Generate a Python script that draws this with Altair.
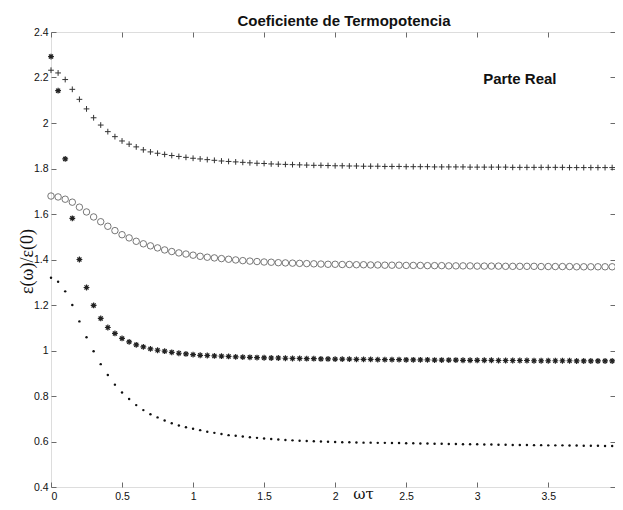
import altair as alt
import pandas as pd

# sample grid (omega*tau), step 0.05
x_vals = [round(i * 0.05, 2) for i in range(80)]

plus_vals = [2.232, 2.220, 2.191, 2.148, 2.104, 2.062, 2.023, 1.991, 1.962, 1.940,
             1.921, 1.907, 1.895, 1.882, 1.873, 1.867, 1.862, 1.857, 1.853, 1.849,
             1.845, 1.842, 1.839, 1.836, 1.833, 1.831, 1.829, 1.827, 1.825, 1.823,
             1.822, 1.820, 1.819, 1.818, 1.817, 1.816, 1.815, 1.814, 1.814, 1.813,
             1.812, 1.812, 1.811, 1.811, 1.810, 1.810, 1.810, 1.809, 1.809, 1.809,
             1.808, 1.808, 1.808, 1.808, 1.807, 1.807, 1.807, 1.807, 1.807, 1.806,
             1.806, 1.806, 1.806, 1.806, 1.806, 1.805, 1.805, 1.805, 1.805, 1.805,
             1.805, 1.805, 1.805, 1.804, 1.804, 1.804, 1.804, 1.804, 1.804, 1.804]

circ_vals = [1.679, 1.675, 1.665, 1.652, 1.630, 1.609, 1.587, 1.566, 1.546, 1.527,
             1.509, 1.495, 1.480, 1.469, 1.460, 1.451, 1.442, 1.435, 1.429, 1.424,
             1.419, 1.414, 1.410, 1.407, 1.404, 1.401, 1.398, 1.395, 1.393, 1.391,
             1.389, 1.388, 1.386, 1.385, 1.384, 1.383, 1.382, 1.381, 1.380, 1.379,
             1.379, 1.378, 1.378, 1.377, 1.377, 1.376, 1.376, 1.375, 1.375, 1.375,
             1.374, 1.374, 1.374, 1.373, 1.373, 1.373, 1.372, 1.372, 1.372, 1.372,
             1.371, 1.371, 1.371, 1.371, 1.370, 1.370, 1.370, 1.370, 1.370, 1.369,
             1.369, 1.369, 1.369, 1.369, 1.368, 1.368, 1.368, 1.368, 1.368, 1.368]

star_vals = [2.292, 2.142, 1.842, 1.581, 1.400, 1.277, 1.198, 1.141, 1.101, 1.075,
             1.053, 1.038, 1.025, 1.016, 1.007, 1.001, 0.997, 0.992, 0.988, 0.985,
             0.982, 0.979, 0.978, 0.976, 0.975, 0.974, 0.972, 0.971, 0.970, 0.969,
             0.968, 0.967, 0.967, 0.966, 0.965, 0.965, 0.964, 0.964, 0.963, 0.963,
             0.962, 0.962, 0.962, 0.961, 0.961, 0.961, 0.960, 0.960, 0.960, 0.960,
             0.959, 0.959, 0.959, 0.959, 0.958, 0.958, 0.958, 0.958, 0.957, 0.957,
             0.957, 0.957, 0.957, 0.956, 0.956, 0.956, 0.956, 0.956, 0.955, 0.955,
             0.955, 0.955, 0.955, 0.955, 0.954, 0.954, 0.954, 0.954, 0.954, 0.954]

dot_vals = [1.320, 1.302, 1.260, 1.200, 1.128, 1.058, 0.997, 0.940, 0.892, 0.850,
            0.815, 0.787, 0.760, 0.738, 0.720, 0.706, 0.692, 0.680, 0.670, 0.663,
            0.656, 0.650, 0.643, 0.638, 0.633, 0.628, 0.625, 0.622, 0.619, 0.616,
            0.613, 0.611, 0.609, 0.607, 0.605, 0.603, 0.602, 0.601, 0.600, 0.599,
            0.598, 0.597, 0.597, 0.596, 0.595, 0.595, 0.594, 0.594, 0.593, 0.593,
            0.592, 0.592, 0.591, 0.591, 0.590, 0.590, 0.589, 0.589, 0.588, 0.588,
            0.588, 0.587, 0.587, 0.586, 0.586, 0.585, 0.585, 0.585, 0.584, 0.584,
            0.583, 0.583, 0.583, 0.582, 0.582, 0.581, 0.581, 0.581, 0.580, 0.580]

x_ticks = [0, 0.5, 1, 1.5, 2, 2.5, 3, 3.5]
y_ticks = [0.4, 0.6, 0.8, 1.0, 1.2, 1.4, 1.6, 1.8, 2.0, 2.2, 2.4]

title_text = ["Coeficiente de Termopotencia"]
note_text = ["Parte Real"]
note_x = [3.30]
note_y = [2.173]
x_title = "ωτ"
y_title = "ε(ω)/ε(0)"

W, H = 564, 455
xs = alt.Scale(domain=[0, 3.97], nice=False, zero=False)
ys = alt.Scale(domain=[0.4, 2.4], nice=False, zero=False)

df = pd.DataFrame({"x": x_vals, "plus": plus_vals, "circ": circ_vals,
                   "star": star_vals, "dot": dot_vals})
note_df = pd.DataFrame({"x": note_x, "y": note_y, "t": note_text})
title_df = pd.DataFrame({"t": title_text})

AX = "#6a6a6a"


def tick_axis(orient):
    return alt.Axis(orient=orient, values=x_ticks if orient in ("top", "bottom") else y_ticks,
                    offset=-5, tickSize=5, ticks=True, labels=False, domain=False,
                    grid=False, title=None, tickColor=AX, tickWidth=1)


base = alt.Chart(df)

plus_layer = base.mark_point(
    shape="M-1,0L1,0M0,-1L0,1", filled=False, stroke="#333333", strokeWidth=1, size=33, opacity=1
).encode(
    x=alt.X("x:Q", scale=xs, axis=alt.Axis(
        orient="bottom", values=x_ticks, format="~g", ticks=False, tickSize=0, domain=False,
        grid=False, labelPadding=4, labelFontSize=10.5, labelFont="Liberation Sans", labelColor="#111",
        title=x_title, titleFont="DejaVu Serif", titleFontSize=15, titleFontWeight="normal",
        titleX=312, titleY=11, titleBaseline="alphabetic", titleColor="#111")),
    y=alt.Y("plus:Q", scale=ys, axis=alt.Axis(
        orient="left", values=y_ticks, format="~g", ticks=False, tickSize=0, domain=False,
        grid=False, labelPadding=3, labelFontSize=10.5, labelFont="Liberation Sans", labelColor="#111",
        title=y_title, titleFont="Liberation Serif", titleFontSize=18, titleFontWeight="normal",
        titleX=-24, titleY=229, titleBaseline="middle", titleAngle=270, titleColor="#111")),
)

circ_layer = base.mark_point(
    shape="circle", filled=False, stroke="#555555", strokeWidth=0.8, size=42, opacity=1
).encode(
    x=alt.X("x:Q", scale=xs, axis=tick_axis("bottom")),
    y=alt.Y("circ:Q", scale=ys, axis=tick_axis("left")),
)

star_layer = base.mark_point(
    shape="M-1,0L1,0M0,-1L0,1M-0.7,-0.7L0.7,0.7M-0.7,0.7L0.7,-0.7",
    filled=False, stroke="#222222", strokeWidth=1.2, size=34, opacity=1
).encode(
    x=alt.X("x:Q", scale=xs, axis=tick_axis("top")),
    y=alt.Y("star:Q", scale=ys, axis=tick_axis("right")),
)

dot_layer = base.mark_point(
    shape="circle", filled=True, fill="#111111", stroke=None, size=6, opacity=1
).encode(
    x=alt.X("x:Q", scale=xs, axis=None),
    y=alt.Y("dot:Q", scale=ys, axis=None),
)

note_layer = alt.Chart(note_df).mark_text(
    font="Liberation Sans", fontSize=15, fontWeight="bold", color="#111",
    align="center", baseline="alphabetic"
).encode(
    x=alt.X("x:Q", scale=xs, axis=None),
    y=alt.Y("y:Q", scale=ys, axis=None),
    text="t:N",
)

title_layer = alt.Chart(title_df).mark_text(
    font="Liberation Sans", fontSize=15, fontWeight="bold", color="#111",
    align="center", baseline="alphabetic"
).encode(
    x=alt.value(293),
    y=alt.value(-6),
    text="t:N",
)

chart = alt.layer(plus_layer, circ_layer, star_layer, dot_layer, note_layer, title_layer).resolve_axis(
    x="independent", y="independent"
).properties(
    width=W, height=H,
    autosize=alt.AutoSizeParams(type="none"),
    padding={"left": 43, "top": 24, "right": 0, "bottom": 15},
).configure_view(stroke=AX, strokeWidth=1).configure(background="white")

chart.save("out.html", embed_options={"renderer": "svg", "actions": False})
